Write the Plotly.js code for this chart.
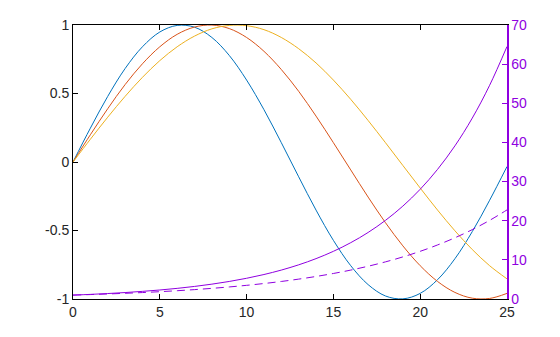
<!DOCTYPE html>
<html>
<head>
<meta charset="utf-8">
<script src="https://cdn.plot.ly/plotly-3.0.1.min.js"></script>
<style>html,body{margin:0;padding:0;background:#fff;}#chart{width:560px;height:337px;}</style>
</head>
<body>
<div id="chart"></div>
<script>
var xValues = [0,1,2,3,4,5,6,7,8,9,10,11,12,13,14,15,16,17,18,19,20,21,22,23,24,25];
var blueSeries = [0,0.247,0.479,0.682,0.841,0.949,0.997,0.984,0.909,0.778,0.598,0.382,0.141,-0.108,-0.351,-0.572,-0.757,-0.895,-0.978,-0.999,-0.959,-0.859,-0.706,-0.508,-0.279,-0.033];
var orangeSeries = [0,0.199,0.389,0.565,0.717,0.841,0.932,0.985,0.9996,0.974,0.909,0.808,0.675,0.516,0.335,0.141,-0.058,-0.256,-0.443,-0.612,-0.757,-0.872,-0.952,-0.994,-0.996,-0.959];
var yellowSeries = [0,0.166,0.327,0.479,0.618,0.740,0.841,0.919,0.972,0.997,0.995,0.966,0.909,0.827,0.723,0.598,0.457,0.303,0.141,-0.025,-0.190,-0.351,-0.502,-0.639,-0.757,-0.853];
var purpleSolid = [1,1.181,1.396,1.649,1.948,2.301,2.718,3.211,3.794,4.482,5.294,6.254,7.389,8.729,10.31,12.18,14.39,17.00,20.09,23.73,28.03,33.12,39.12,46.22,54.60,64.50];
var purpleDashed = [1,1.133,1.284,1.455,1.649,1.868,2.117,2.398,2.718,3.080,3.490,3.955,4.482,5.078,5.755,6.521,7.389,8.373,9.488,10.75,12.18,13.81,15.64,17.73,20.09,22.76];
var leftTicks = [-1,-0.5,0,0.5,1];
var leftTickText = ['-1','-0.5','0','0.5','1'];
var rightTicks = [0,10,20,30,40,50,60,70];
var xTicks = [0,5,10,15,20,25];

var purple = '#8F00E0';
var traces = [
  {x:xValues, y:blueSeries, type:'scatter', mode:'lines', line:{color:'#0072BD', width:1, shape:'spline'}},
  {x:xValues, y:orangeSeries, type:'scatter', mode:'lines', line:{color:'#D95319', width:1, shape:'spline'}},
  {x:xValues, y:yellowSeries, type:'scatter', mode:'lines', line:{color:'#EDB120', width:1, shape:'spline'}},
  {x:xValues, y:purpleSolid, yaxis:'y2', type:'scatter', mode:'lines', line:{color:purple, width:1, shape:'spline'}},
  {x:xValues, y:purpleDashed, yaxis:'y2', type:'scatter', mode:'lines', line:{color:purple, width:1, shape:'spline', dash:'8px,5px'}}
];
var layout = {
  width:560, height:337,
  margin:{l:73, r:53, t:25, b:38},
  showlegend:false,
  paper_bgcolor:'#fff', plot_bgcolor:'#fff',
  font:{family:'"Liberation Sans", Arial, sans-serif', size:14, color:'#262626'},
  xaxis:{range:[0,25], tickvals:xTicks, ticktext:xTicks.map(String), ticks:'inside', ticklen:5, tickcolor:'#000',
    showline:true, linecolor:'#000', linewidth:1, mirror:'ticks', showgrid:false, zeroline:false, fixedrange:true},
  yaxis:{range:[-1,1], tickvals:leftTicks, ticktext:leftTickText, ticks:'inside', ticklen:5, tickcolor:'#000',
    showline:true, linecolor:'#000', linewidth:1, showgrid:false, zeroline:false, fixedrange:true},
  yaxis2:{range:[0,70], overlaying:'y', side:'right', tickvals:rightTicks, ticktext:rightTicks.map(String),
    ticks:'inside', ticklen:5, tickcolor:purple, showline:true, linecolor:purple, linewidth:1.5,
    showgrid:false, zeroline:false, tickfont:{color:purple}, fixedrange:true}
};
Plotly.newPlot('chart', traces, layout, {displayModeBar:false, staticPlot:true});
</script>
</body>
</html>
